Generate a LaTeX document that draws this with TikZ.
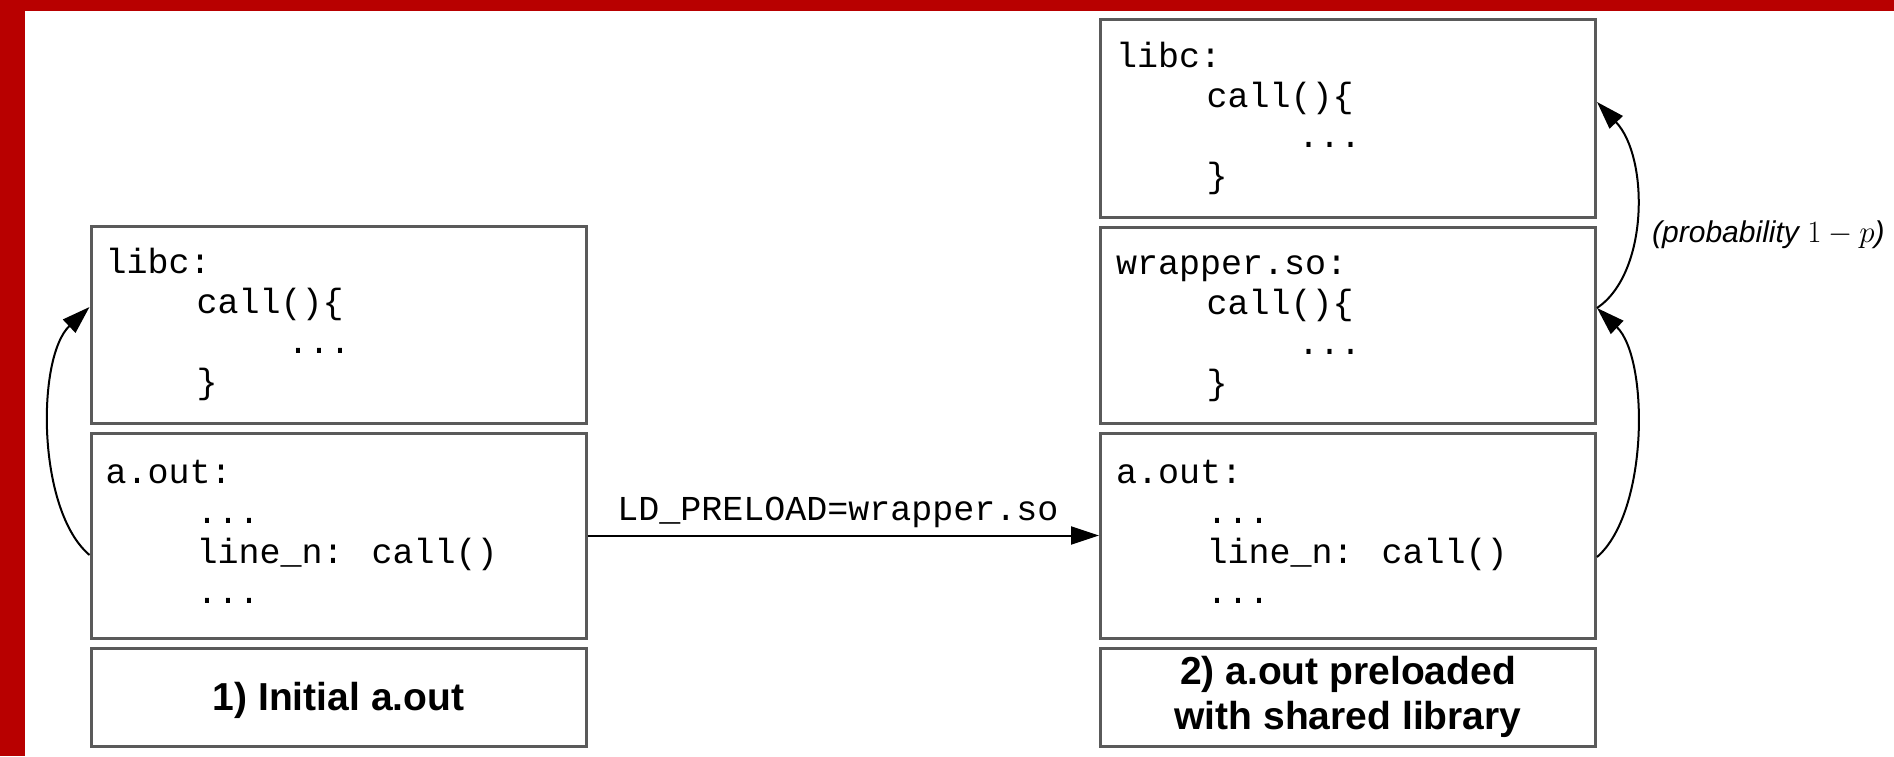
\RequirePackage{fix-cm}
\documentclass[tikz,border=0pt]{standalone}
\usepackage[no-math]{fontspec}
\setmainfont{Liberation Sans}
\newfontfamily\codefont{Liberation Mono}
\usetikzlibrary{arrows.meta,calc}
\definecolor{framered}{HTML}{B80000}
\definecolor{boxgray}{HTML}{5A5A5A}
\tikzset{
  box/.style={draw=boxgray, line width=3pt, minimum width=495pt, inner sep=0pt},
  code/.style={anchor=base west, inner sep=0pt, font=\codefont\fontsize{35}{40}\selectfont},
  title/.style={font=\fontsize{39}{45}\selectfont\bfseries, align=center, inner sep=0pt},
  conn/.style={line width=2pt, -{Triangle[length=28pt,width=18pt]}},
}
\begin{document}
\begin{tikzpicture}[x=1pt,y=-1pt]
\useasboundingbox (0,0) rectangle (1894,756);
\fill[framered] (0,0) rectangle (1894,11);
\fill[framered] (0,0) rectangle (25,756);

% left column
\node[box, minimum height=197pt] (libcL) at (338.5,324.5) {};
\node[box, minimum height=205pt] (aoutL) at (338.5,535.5) {};
\node[box, minimum height=98pt] (titleL) at (338.5,697) {};
% right column
\node[box, minimum height=198pt] (libcR) at (1348,118) {};
\node[box, minimum height=196pt] (wrapR) at (1348,325) {};
\node[box, minimum height=205pt] (aoutR) at (1348,535.5) {};
\node[box, minimum height=98pt] (titleR) at (1348,697) {};

% left texts
\node[code] (lA) at (105.5,273) {libc:};
\node[code] (lB) at (196.5,313) {call()\{};
\node[code] (lC) at (287.5,353) {...};
\node[code] (lD) at (196.5,393) {\}};
\node[code] (aA) at (105.5,483) {a.out:};
\node[code] (aB) at (196.5,523) {...};
\node[code] (aC) at (196.5,563) {line\_n: call()};
\node[code] (aD) at (196.5,603) {...};
\node[title, anchor=base] (tL) at ([yshift=-13pt]titleL.center) {1) Initial a.out};

% right texts
\node[code] (rA) at (1116,67) {libc:};
\node[code] (rB) at (1206.5,107) {call()\{};
\node[code] (rC) at (1298,147) {...};
\node[code] (rD) at (1206.5,187) {\}};
\node[code] (wA) at (1116,274) {wrapper.so:};
\node[code] (wB) at (1206.5,314) {call()\{};
\node[code] (wC) at (1298,354) {...};
\node[code] (wD) at (1206.5,394) {\}};
\node[code] (bA) at (1116,483) {a.out:};
\node[code] (bB) at (1206.5,523) {...};
\node[code] (bC) at (1206.5,563) {line\_n: call()};
\node[code] (bD) at (1206.5,603) {...};
\node[title] (tR) at (titleR.center) {2) a.out preloaded\\with shared library};

% connectors
\draw[conn] (aoutL.east) -- (aoutR.west);
\node[code, anchor=base] (ld) at (838,520) {LD\_PRELOAD=wrapper.so};

\draw[conn] ($(aC.base -| aoutL.west)+(0,-8)$) .. controls +(-53,-45) and +(-53,50) .. ($(lB.base -| libcL.west)+(0,-6)$);
\draw[conn] ($(bC.base -| aoutR.east)+(0,-6)$) .. controls +(52,-45) and +(52,50) .. ($(wB.base -| wrapR.east)+(0,-6)$);
\draw[conn] ($(wB.base -| wrapR.east)+(0,-6)$) .. controls +(52,-35) and +(52,55) .. ($(rB.base -| libcR.east)+(0,-5)$);

\node[anchor=base west, inner sep=0pt, font=\fontsize{30}{36}\selectfont\itshape] (prob) at (1652,242) {(probability {\fontsize{31}{36}\selectfont$1-p$})};
\end{tikzpicture}
\end{document}
